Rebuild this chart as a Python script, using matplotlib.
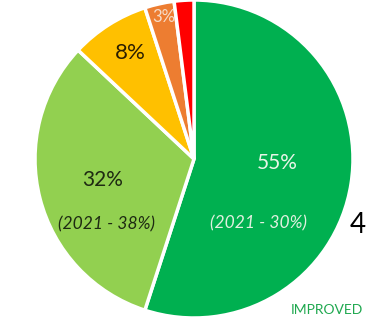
import matplotlib.pyplot as plt

# share of ratings, drawn clockwise from 12 o'clock
labels = ['55%', '32%', '8%', '3%', '2%']
shares = [55, 32, 8, 3, 2]
colours = ['#00B050', '#92D050', '#FFC000', '#ED7D31', '#FF0000']
prev_year = ['(2021 - 30%)', '(2021 - 38%)']

plt.rcParams['font.family'] = ['Lato', 'DejaVu Sans']

fig = plt.figure(figsize=(3.66, 3.25), dpi=100)
ax = fig.add_axes([0, 0, 1, 1])

ax.pie(shares, colors=colours, startangle=90, counterclock=False,
       center=(194, 166), radius=159,
       wedgeprops={'edgecolor': 'white', 'linewidth': 2.5})

# pie() resets the limits, so set them afterwards
ax.set_xlim(0, 366)
ax.set_ylim(0, 325)
ax.set_aspect('equal')
ax.axis('off')

# percentage labels
ax.text(277, 162, labels[0], color='#E8F5E8', fontsize=15, ha='center', va='center')
ax.text(258, 102, prev_year[0], color='#E0F0E0', fontsize=12.5, style='italic', ha='center', va='center')
ax.text(103, 145, labels[1], color='#1E2A12', fontsize=15, ha='center', va='center')
ax.text(106, 101, prev_year[1], color='#1E2A12', fontsize=12.5, style='italic', ha='center', va='center')
ax.text(130, 272, labels[2], color='#2A1E00', fontsize=16, ha='center', va='center')
ax.text(164, 308, labels[3], color='#F6DCC8', fontsize=12, ha='center', va='center')

ax.text(358, 100, '4', color='black', fontsize=20, ha='center', va='center')
ax.text(363, 15, 'IMPROVED', color='#1FA84F', fontsize=10, ha='right', va='center')

fig.savefig('out.png', dpi=100)
